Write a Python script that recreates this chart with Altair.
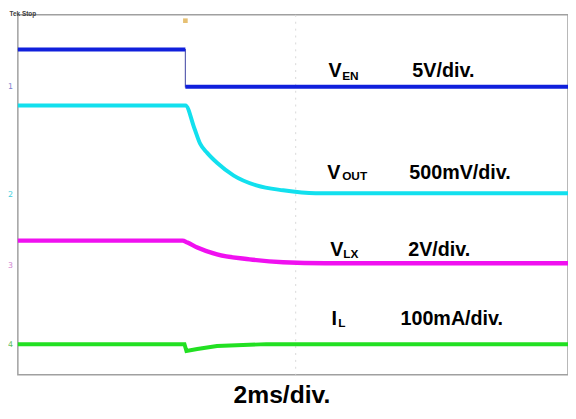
import altair as alt
import pandas as pd

# ---- trace data (time in ms, 2 ms/div; amplitude in screen divisions) ----
ven_t = [0, 6.09, 6.09, 20]
ven_v = [7.23, 7.23, 6.40, 6.40]
ven_seg = ["high", "high", "low", "low"]

vout_t = [0, 6.093, 6.416, 6.631, 6.882, 7.240, 7.849, 8.674, 9.642, 10.824, 20]
vout_v = [5.984, 5.984, 5.479, 5.129, 4.932, 4.712, 4.427, 4.208, 4.099, 4.033, 4.033]

vlx_t = [0, 5.986, 6.165, 6.523, 7.240, 8.423, 9.642, 11.183, 20]
vlx_v = [2.981, 2.981, 2.937, 2.827, 2.674, 2.564, 2.499, 2.477, 2.477]

il_t = [0, 6.057, 6.129, 6.523, 7.240, 9.032, 20]
il_v = [0.679, 0.679, 0.526, 0.570, 0.636, 0.679, 0.679]

# ---- annotation texts ----
main_txt = ["V", "5V/div.", "V", "500mV/div.", "V", "2V/div.", "I", "100mA/div."]
main_t = [11.29, 14.34, 11.25, 14.23, 11.36, 14.19, 11.40, 13.91]
main_y = [6.62, 6.62, 4.36, 4.36, 2.63, 2.63, 1.10, 1.10]

sub_txt = ["EN", "OUT", "LX", "L"]
sub_t = [11.79, 11.79, 11.83, 11.65]
sub_y = [6.56, 4.32, 2.59, 1.06]

ch_txt = ["1", "2", "3", "4"]
ch_y = [6.36, 3.95, 2.37, 0.61]
ch_col = ["#8080d0", "#40d0e0", "#d080d0", "#60c060"]

xs = alt.Scale(domain=[0, 20], nice=False, zero=False)
ys = alt.Scale(domain=[0, 8], nice=False, zero=False)

def X(f="t"):
    return alt.X(f"{f}:Q", scale=xs, axis=None)

def Y(f="v"):
    return alt.Y(f"{f}:Q", scale=ys, axis=None)

ven = pd.DataFrame({"t": ven_t, "v": ven_v, "seg": ven_seg, "i": range(len(ven_t))})
vout = pd.DataFrame({"t": vout_t, "v": vout_v, "i": range(len(vout_t))})
vlx = pd.DataFrame({"t": vlx_t, "v": vlx_v, "i": range(len(vlx_t))})
il = pd.DataFrame({"t": il_t, "v": il_v, "i": range(len(il_t))})

grid = alt.Chart(pd.DataFrame({"t": [10.1]})).mark_rule(
    color="#d8d8d8", strokeWidth=1, strokeDash=[2, 5]
).encode(x=X())

ven_thin = alt.Chart(ven).mark_line(color="#5a5fb0", strokeWidth=1.2).encode(
    x=X(), y=Y(), order="i:Q")
ven_thick = alt.Chart(ven).mark_line(color="#1020dc", strokeWidth=4).encode(
    x=X(), y=Y(), detail="seg:N", order="i:Q")
vout_l = alt.Chart(vout).mark_line(color="#12e0ee", strokeWidth=4, interpolate="monotone").encode(
    x=X(), y=Y(), order="i:Q")
vlx_l = alt.Chart(vlx).mark_line(color="#f010f0", strokeWidth=4.5, interpolate="monotone").encode(
    x=X(), y=Y(), order="i:Q")
il_l = alt.Chart(il).mark_line(color="#22e022", strokeWidth=4).encode(
    x=X(), y=Y(), order="i:Q")

main_df = pd.DataFrame({"txt": main_txt, "t": main_t, "v": main_y})
sub_df = pd.DataFrame({"txt": sub_txt, "t": sub_t, "v": sub_y})

main_text = alt.Chart(main_df).mark_text(
    align="left", baseline="alphabetic", font="Liberation Sans",
    fontWeight="bold", fontSize=20, color="#000000"
).encode(x=X(), y=Y(), text="txt:N")
sub_text = alt.Chart(sub_df).mark_text(
    align="left", baseline="alphabetic", font="Liberation Sans",
    fontWeight="bold", fontSize=12, color="#000000"
).encode(x=X(), y=Y(), text="txt:N")

bottom = alt.Chart(pd.DataFrame({"txt": ["2ms/div."], "t": [9.6], "v": [-0.62]})).mark_text(
    align="center", baseline="alphabetic", font="Liberation Sans",
    fontWeight="bold", fontSize=25, color="#000000"
).encode(x=X(), y=Y(), text="txt:N")

ch_df = pd.DataFrame({"txt": ch_txt, "t": [-0.36] * 4, "v": ch_y, "c": ch_col})
ch_text = alt.Chart(ch_df).mark_text(
    align="left", baseline="alphabetic", font="DejaVu Sans", fontSize=8
).encode(x=X(), y=Y(), text="txt:N", color=alt.Color("c:N", scale=None))

tek = alt.Chart(pd.DataFrame({"txt": ["Tek Stop"], "t": [-0.3], "v": [8.085]})).mark_text(
    align="left", baseline="top", font="Liberation Sans", fontWeight="bold",
    fontSize=6.5, color="#404040"
).encode(x=X(), y=Y(), text="txt:N")

trig = alt.Chart(pd.DataFrame({"t": [6.09], "v": [7.87]})).mark_point(
    shape="square", filled=True, size=22, color="#e0b050", opacity=0.8
).encode(x=X(), y=Y())

chart = alt.layer(
    grid, ven_thin, ven_thick, vout_l, vlx_l, il_l,
    main_text, sub_text, bottom, ch_text, tek, trig
).properties(
    width=558, height=365,
    autosize=alt.AutoSizeParams(type="none"),
    padding={"left": 10, "top": 4, "right": 0, "bottom": 42},
    background="#ffffff",
).configure_view(stroke="#a0a0a0", strokeWidth=1.5)

chart.save("out.html", embed_options={"renderer": "svg", "actions": False})
